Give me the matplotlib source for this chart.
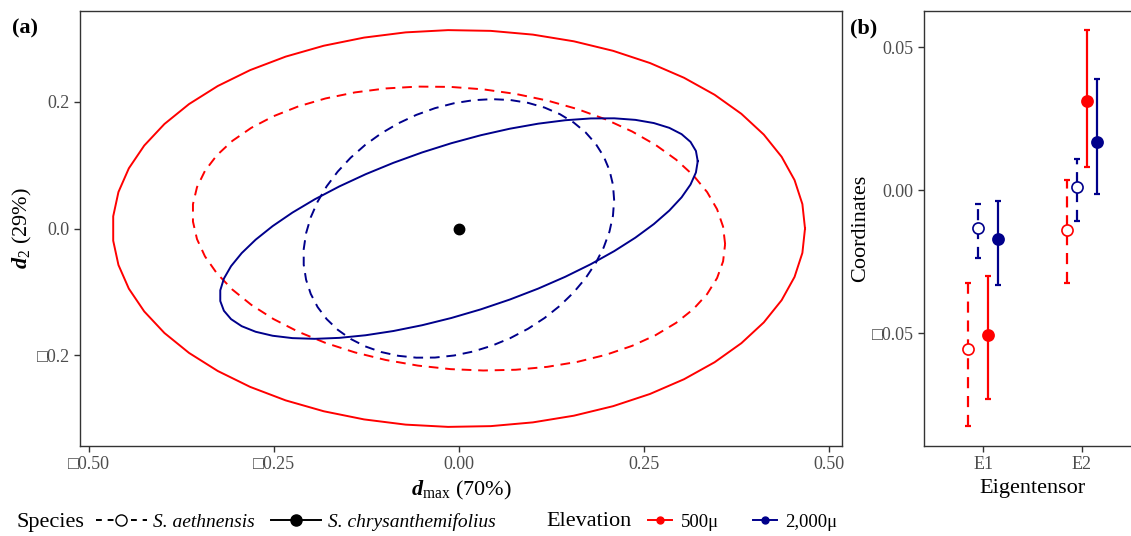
import matplotlib
matplotlib.use("Agg")
import matplotlib.pyplot as plt
from matplotlib.lines import Line2D
from matplotlib.ticker import FuncFormatter
import numpy as np

plt.rcParams['font.family'] = ['Liberation Serif', 'DejaVu Serif', 'DejaVu Sans']
plt.rcParams['mathtext.fontset'] = 'custom'
plt.rcParams['mathtext.rm'] = 'Liberation Serif'
plt.rcParams['mathtext.it'] = 'Liberation Serif:italic'
plt.rcParams['mathtext.bf'] = 'Liberation Serif:bold'
plt.rcParams['mathtext.bfit'] = 'Liberation Serif:italic:bold'

# panel (a): ellipses -- sd along x, sd along y, correlation (all centred at 0)
ell_species = ['aeth', 'aeth', 'chry', 'chry']
ell_elev = ['500', '2000', '500', '2000']
ell_sx = [0.360, 0.210, 0.468, 0.323]
ell_sy = [0.224, 0.204, 0.313, 0.174]
ell_r = [-0.11, 0.22, 0.0, 0.61]

# panel (b): eigentensor coordinates, groups = aeth500, aeth2000, chry500, chry2000
eigen = ['E1', 'E2']
grp_species = ['aeth', 'aeth', 'chry', 'chry']
grp_elev = ['500', '2000', '500', '2000']
mean_E1 = [-0.0555, -0.0133, -0.0507, -0.0172]
lo_E1 = [-0.0825, -0.0237, -0.0732, -0.0332]
hi_E1 = [-0.0324, -0.0049, -0.0301, -0.0040]
mean_E2 = [-0.0138, 0.0009, 0.0312, 0.0169]
lo_E2 = [-0.0324, -0.0110, 0.0082, -0.0014]
hi_E2 = [0.0035, 0.0110, 0.0559, 0.0389]

col = {'500': '#FF0000', '2000': '#00008B'}
lsty = {'aeth': (0, (5, 3.5)), 'chry': 'solid'}
frame = '#333333'
tickc = '#4D4D4D'


def minus_box(v, pos, fmt):
    s = fmt.format(v)
    if s.startswith('-'):
        s = '\u25a1' + s[1:]
    return s


def style_axes(ax):
    for sp in ax.spines.values():
        sp.set_color(frame)
        sp.set_linewidth(1.0)
    ax.tick_params(colors=frame, labelcolor=tickc, labelsize=13, length=4, width=1.0)


fig = plt.figure(figsize=(11.31, 5.36), dpi=100)
W, H = 1131, 536
axa = fig.add_axes([80 / W, 1 - 446 / H, 762 / W, 435 / H])
axb = fig.add_axes([924 / W, 1 - 446 / H, 217 / W, 435 / H])

# ---- panel a
t = np.linspace(0, 2 * np.pi, 52)
for sp, el, sx, sy, r in zip(ell_species, ell_elev, ell_sx, ell_sy, ell_r):
    x = sx * np.cos(t)
    y = r * sy * np.cos(t) + sy * np.sqrt(1 - r ** 2) * np.sin(t)
    axa.plot(x, y, color=col[el], ls=lsty[sp], lw=1.4)
axa.plot([0], [0], 'o', color='black', ms=7.5)
axa.set_xlim(-0.512, 0.518)
axa.set_ylim(-0.343, 0.343)
axa.set_xticks([-0.5, -0.25, 0, 0.25, 0.5])
axa.set_yticks([-0.2, 0, 0.2])
axa.xaxis.set_major_formatter(FuncFormatter(lambda v, p: minus_box(v, p, '{:.2f}')))
axa.yaxis.set_major_formatter(FuncFormatter(lambda v, p: minus_box(v, p, '{:.1f}')))
style_axes(axa)
axa.set_xlabel(r'$\mathbfit{d}_{\mathrm{max}}$ (70%)', fontsize=16, labelpad=4)
axa.set_ylabel(r'$\mathbfit{d}_{2}$ (29%)', fontsize=16, labelpad=2)

# ---- panel b
offs = [-0.15, -0.05, 0.05, 0.15]
for k, (m, lo, hi) in enumerate([(mean_E1, lo_E1, hi_E1), (mean_E2, lo_E2, hi_E2)]):
    for i in range(4):
        xp = k + 1 + offs[i]
        c = col[grp_elev[i]]
        eb = axb.errorbar([xp], [m[i]], yerr=[[m[i] - lo[i]], [hi[i] - m[i]]],
                          fmt='none', ecolor=c, elinewidth=1.6, capsize=2.5, capthick=1.6)
        eb[2][0].set_linestyle(lsty[grp_species[i]])
        face = 'white' if grp_species[i] == 'aeth' else c
        axb.plot([xp], [m[i]], 'o', ms=8, mfc=face, mec=c, mew=1.2, zorder=3)
axb.set_xlim(0.4, 2.6)
axb.set_ylim(-0.0895, 0.0626)
axb.set_xticks([1, 2])
axb.set_xticklabels(eigen)
axb.set_yticks([-0.05, 0, 0.05])
axb.yaxis.set_major_formatter(FuncFormatter(lambda v, p: minus_box(v, p, '{:.2f}')))
style_axes(axb)
axb.set_xlabel('Eigentensor', fontsize=16, labelpad=4)
axb.set_ylabel('Coordinates', fontsize=16, labelpad=1)

fig.text(12 / W, 1 - 28 / H, '(a)', fontsize=16, fontweight='bold', va='center')
fig.text(850 / W, 1 - 28 / H, '(b)', fontsize=16, fontweight='bold', va='center')

# ---- legends
ly = 1 - 522 / H
fig.text(16 / W, ly, 'Species', fontsize=16, va='center')
sp_handles = [
    Line2D([], [], color='black', ls=(0, (3, 3)), lw=1.4, marker='o', ms=8, mfc='white', mec='black'),
    Line2D([], [], color='black', ls='solid', lw=1.4, marker='o', ms=8, mfc='black', mec='black'),
]
fig.legend(sp_handles, ['S. aethnensis', 'S. chrysanthemifolius'], loc='center left',
           bbox_to_anchor=(96 / W, ly), ncol=2, frameon=False, handlelength=2.6,
           handletextpad=0.35, columnspacing=0.8, borderpad=0, borderaxespad=0,
           prop={'size': 14, 'style': 'italic'})
fig.text(546 / W, ly, 'Elevation', fontsize=16, va='center')
el_handles = [
    Line2D([], [], color=col['500'], lw=1.4, marker='o', ms=5),
    Line2D([], [], color=col['2000'], lw=1.4, marker='o', ms=5),
]
fig.legend(el_handles, ['500\u03bc', '2,000\u03bc'], loc='center left',
           bbox_to_anchor=(648 / W, ly), ncol=2, frameon=False, handlelength=1.3,
           handletextpad=0.45, columnspacing=1.8, borderpad=0, borderaxespad=0,
           prop={'size': 13.5})

fig.savefig('out.png', dpi=100)
